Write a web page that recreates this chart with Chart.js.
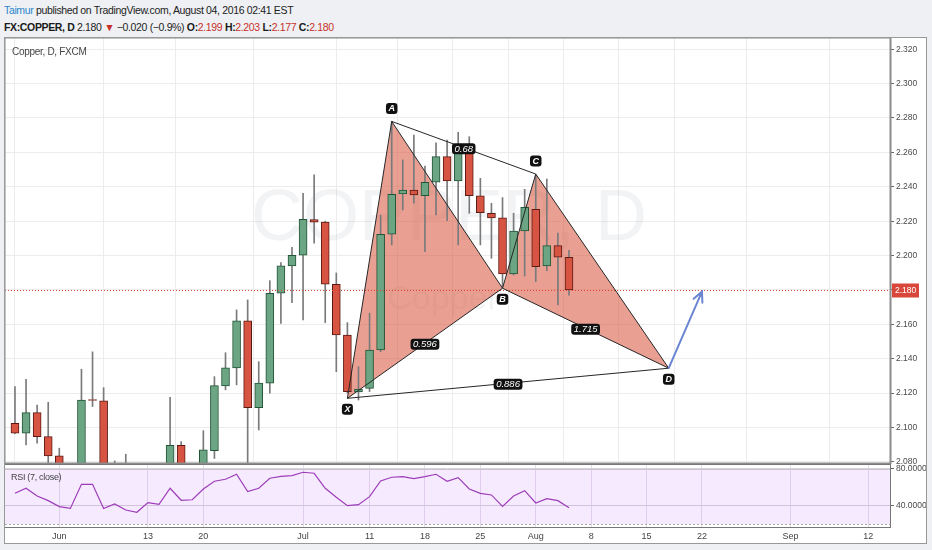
<!DOCTYPE html>
<html>
<head>
<meta charset="utf-8">
<script src="https://cdn.jsdelivr.net/npm/chart.js@4.4.1/dist/chart.umd.min.js"></script>
<style>
  body { margin: 0; width: 932px; height: 550px; background: #eef0f3; position: relative; overflow: hidden;
         font-family: 'Liberation Sans', Arial, sans-serif; }
  .hdr { position: absolute; left: 4px; font-size: 10.5px; color: #222; white-space: nowrap; letter-spacing: -0.35px; }
  #h1 { top: 4px; }
  #h2 { top: 21px; }
  #h2 b { color: #1a1a1a; }
  .r { color: #c9302c; }
  #frame { position: absolute; left: 4px; top: 37px; width: 923px; height: 507px; box-sizing: border-box;
           border: 1px solid #999; background: #fff; }
  canvas { position: absolute; }
  #main { left: 5px; top: 38px; }
  #rsi { left: 5px; top: 464px; }
  .lbl { position: absolute; font-size: 10px; color: #444; letter-spacing: -0.3px; }
</style>
</head>
<body>
<div class="hdr" id="h1"><span style="color:#2a86cc">Taimur</span> published on TradingView.com, August 04, 2016 02:41 EST</div>
<div class="hdr" id="h2"><b>FX:COPPER, D</b> 2.180 <span class="r">&#9660;</span> &minus;0.020 (&minus;0.9%) <b>O:</b><span class="r">2.199</span> <b>H:</b><span class="r">2.203</span> <b>L:</b><span class="r">2.177</span> <b>C:</b><span class="r">2.180</span></div>
<div id="frame"></div>
<canvas id="main" width="921" height="426"></canvas>
<canvas id="rsi" width="921" height="79"></canvas>
<div class="lbl" style="left:12px;top:46px;">Copper, D, FXCM</div>
<div class="lbl" style="left:11px;top:472px;font-size:9px;">RSI (7, close)</div>
<script>
const dates = ['2016-05-26','2016-05-27','2016-05-30','2016-05-31','2016-06-01','2016-06-02','2016-06-03',
  '2016-06-06','2016-06-07','2016-06-08','2016-06-09','2016-06-10','2016-06-13','2016-06-14','2016-06-15',
  '2016-06-16','2016-06-17','2016-06-20','2016-06-21','2016-06-22','2016-06-23','2016-06-24','2016-06-27',
  '2016-06-28','2016-06-29','2016-06-30','2016-07-01','2016-07-04','2016-07-05','2016-07-06','2016-07-07',
  '2016-07-08','2016-07-11','2016-07-12','2016-07-13','2016-07-14','2016-07-15','2016-07-18','2016-07-19',
  '2016-07-20','2016-07-21','2016-07-22','2016-07-25','2016-07-26','2016-07-27','2016-07-28','2016-07-29',
  '2016-08-01','2016-08-02','2016-08-03','2016-08-04'];

const opens  = [2.1025,2.0967,2.1087,2.0947,2.0835,2.0750,2.0720,2.1162,2.1156,2.0700,2.0770,2.0660,2.0620,
  2.0720,2.0700,2.0897,2.0740,2.0755,2.0866,2.1242,2.1347,2.1620,2.1116,2.1258,2.1781,2.1940,2.2002,2.2209,
  2.2194,2.1833,2.1538,2.1207,2.1228,2.1451,2.2124,2.2358,2.2381,2.2348,2.2426,2.2575,2.2434,2.2595,2.2348,
  2.2246,2.2219,2.1893,2.2143,2.2269,2.1940,2.2058,2.1990];
const highs  = [2.1238,2.1281,2.1131,2.1147,2.0880,2.0780,2.1339,2.1440,2.1232,2.0806,2.0845,2.0720,2.0770,
  2.0780,2.1176,2.0918,2.0785,2.0982,2.1296,2.1435,2.1684,2.1742,2.1383,2.1854,2.1959,2.2048,2.2362,2.2469,
  2.2200,2.1899,2.1610,2.1354,2.1665,2.2236,2.2779,2.2556,2.2701,2.2520,2.2656,2.2672,2.2717,2.2691,2.2449,
  2.2304,2.2337,2.2246,2.2385,2.2469,2.2444,2.2130,2.2030];
const lows   = [2.0965,2.0899,2.0909,2.0794,2.0700,2.0640,2.0700,2.1122,2.0680,2.0640,2.0610,2.0570,2.0580,
  2.0640,2.0660,2.0700,2.0680,2.0720,2.0820,2.1219,2.1248,2.0780,2.0986,2.1200,2.1606,2.1726,2.1626,2.2072,
  2.1610,2.1325,2.1201,2.1160,2.1209,2.1441,2.2062,2.2265,2.2304,2.2023,2.2236,2.2203,2.2062,2.2246,2.2062,
  2.1984,2.1819,2.1887,2.1881,2.1848,2.1912,2.1713,2.1770];
const closes = [2.0967,2.1087,2.0947,2.0835,2.0750,2.0720,2.1160,2.1158,2.0720,2.0770,2.0660,2.0620,2.0720,
  2.0700,2.0897,2.0740,2.0755,2.0870,2.1244,2.1347,2.1620,2.1116,2.1258,2.1781,2.1940,2.2002,2.2211,2.2194,
  2.1833,2.1538,2.1209,2.1223,2.1451,2.2124,2.2356,2.2381,2.2352,2.2426,2.2575,2.2434,2.2595,2.2348,2.2249,
  2.2219,2.1893,2.2143,2.2281,2.1935,2.2058,2.1990,2.1800];
const rsi7 = [53.5,59,50.6,45.5,39,37,63.3,63.3,37,42,35.3,32.8,43.3,41.5,59,45.9,46.5,58.2,66.6,68.8,
  74.2,55.3,59,69.9,72,72.7,76.4,75.3,59,49.2,40,41.1,49.8,67,71,71.6,69.4,71.6,74.2,66.6,
  70.5,58.2,53.5,51.7,39.3,50.6,56.4,43,47.6,45.5,37.8];

// bar positions (trading-day index from 26 May) of the date labels
const tickBars   = [4, 12, 17, 26, 32, 37, 42, 47, 52, 57, 62, 70, 77];
const tickLabels = ['Jun', '13', '20', 'Jul', '11', '18', '25', 'Aug', '8', '15', '22', 'Sep', '12'];
const priceTicks = [2.08, 2.10, 2.12, 2.14, 2.16, 2.18, 2.20, 2.22, 2.24, 2.26, 2.28, 2.30, 2.32];
const rsiTicks   = [40, 80];

// XABCD drawing
const pointNames   = ['X', 'A', 'B', 'C', 'D'];
const pointBars    = [30, 34, 44, 47, 59];
const pointPrices  = [2.117, 2.278, 2.181, 2.2474, 2.1345];
const ratioLabels  = ['0.596', '0.68', '1.715', '0.886'];   // XB, AC, BD, XD
const arrowBar = 62, arrowPrice = 2.179;

const lastClose = closes[closes.length - 1];
const upFill = '#6ba583', downFill = '#d75442', upLine = '#225437', downLine = '#5b1a13';
const axisFont = { family: "'Liberation Sans', Arial, sans-serif", size: 8.5 };
const xMin = -0.9, xMax = 78.97;

function xTicks(scale) { scale.ticks = tickBars.map(v => ({ value: v })); }

function tag(ctx, text, cx, cy, font) {
  ctx.font = font;
  const w = ctx.measureText(text).width + 5, h = 11;
  ctx.fillStyle = '#111';
  ctx.beginPath();
  ctx.roundRect(cx - w / 2, cy - h / 2, w, h, 3);
  ctx.fill();
  ctx.fillStyle = '#fff';
  ctx.textAlign = 'center';
  ctx.textBaseline = 'middle';
  ctx.fillText(text, cx, cy + 0.5);
}

const overlay = {
  id: 'overlay',
  beforeDatasetsDraw(chart) {
    const { ctx, chartArea: a, scales: { x, y } } = chart;
    ctx.save();
    ctx.fillStyle = 'rgba(185,193,205,0.2)';
    ctx.textAlign = 'center';
    ctx.textBaseline = 'middle';
    ctx.font = '72px "Liberation Sans", sans-serif';
    ctx.fillText('COPPER, D', 444, 182);
    ctx.font = '34px "Liberation Sans", sans-serif';
    ctx.fillText('Copper', 438, 262);

    const p = pointBars.map((b, i) => [x.getPixelForValue(b), y.getPixelForValue(pointPrices[i])]);
    ctx.fillStyle = 'rgba(218,97,73,0.6)';
    [[0, 1, 2], [2, 3, 4]].forEach(t => {
      ctx.beginPath();
      ctx.moveTo(...p[t[0]]); ctx.lineTo(...p[t[1]]); ctx.lineTo(...p[t[2]]);
      ctx.closePath();
      ctx.fill();
    });
    ctx.restore();
  },
  afterDatasetsDraw(chart) {
    const { ctx, chartArea: a, scales: { x, y } } = chart;
    const p = pointBars.map((b, i) => [x.getPixelForValue(b), y.getPixelForValue(pointPrices[i])]);
    ctx.save();
    // last price line
    const ly = Math.round(y.getPixelForValue(lastClose)) + 0.5;
    ctx.strokeStyle = '#e0412f';
    ctx.lineWidth = 1;
    ctx.setLineDash([1, 2]);
    ctx.beginPath(); ctx.moveTo(a.left, ly); ctx.lineTo(a.right, ly); ctx.stroke();
    ctx.setLineDash([]);

    // pattern edges
    ctx.strokeStyle = '#262626';
    ctx.lineWidth = 1;
    [[0, 1], [1, 2], [2, 0], [2, 3], [3, 4], [4, 2], [1, 3], [0, 4]].forEach(s => {
      ctx.beginPath(); ctx.moveTo(...p[s[0]]); ctx.lineTo(...p[s[1]]); ctx.stroke();
    });

    // arrow from D
    const tx = x.getPixelForValue(arrowBar), ty = y.getPixelForValue(arrowPrice);
    const [dx, dy] = p[4];
    const ang = Math.atan2(ty - dy, tx - dx);
    ctx.strokeStyle = '#6a86d2';
    ctx.lineWidth = 2;
    ctx.lineCap = 'round';
    ctx.beginPath();
    ctx.moveTo(dx, dy); ctx.lineTo(tx, ty);
    ctx.moveTo(tx - 11 * Math.cos(ang - 0.45), ty - 11 * Math.sin(ang - 0.45));
    ctx.lineTo(tx, ty);
    ctx.lineTo(tx - 11 * Math.cos(ang + 0.45), ty - 11 * Math.sin(ang + 0.45));
    ctx.stroke();

    // ratio tags at segment midpoints
    const segs = [[0, 2], [1, 3], [2, 4], [0, 4]];
    segs.forEach((s, i) => {
      const mx = (p[s[0]][0] + p[s[1]][0]) / 2, my = (p[s[0]][1] + p[s[1]][1]) / 2;
      tag(ctx, ratioLabels[i], mx, my + 1, 'italic 9.5px "Liberation Sans", sans-serif');
    });
    // point tags
    const above = { A: true, C: true };
    pointNames.forEach((n, i) => {
      tag(ctx, n, p[i][0], p[i][1] + (above[n] ? -13 : 11), 'bold italic 9px "Liberation Sans", sans-serif');
    });

    // last price box on the axis
    ctx.fillStyle = '#d9473a';
    ctx.fillRect(a.right + 2, ly - 7, 27, 14);
    ctx.fillStyle = '#fff';
    ctx.font = '8.5px "Liberation Sans", Arial, sans-serif';
    ctx.textAlign = 'left';
    ctx.textBaseline = 'middle';
    ctx.fillText(lastClose.toFixed(3), a.right + 5, ly + 0.5);

    ctx.strokeStyle = '#8c8c8c';
    ctx.strokeRect(a.left - 0.5, a.top - 0.5, a.right - a.left + 1, a.bottom - a.top);
    ctx.restore();
  }
};

new Chart(document.getElementById('main'), {
  type: 'bar',
  data: {
    datasets: [
      {
        label: 'wick',
        data: dates.map((d, i) => ({ x: i, y: [lows[i], highs[i]] })),
        backgroundColor: '#7a7a7c',
        barThickness: 1,
        grouped: false,
        order: 2
      },
      {
        label: 'body',
        data: dates.map((d, i) => ({ x: i, y: [opens[i], closes[i]] })),
        backgroundColor: dates.map((d, i) => closes[i] >= opens[i] ? upFill : downFill),
        borderColor: dates.map((d, i) => closes[i] >= opens[i] ? upLine : downLine),
        borderWidth: 1,
        borderSkipped: false,
        barThickness: 8,
        grouped: false,
        order: 1
      }
    ]
  },
  options: {
    responsive: false,
    animation: false,
    devicePixelRatio: 1,
    layout: { autoPadding: false, padding: 0 },
    plugins: { legend: { display: false }, tooltip: { enabled: false } },
    scales: {
      x: {
        type: 'linear', min: xMin, max: xMax, offset: false,
        afterBuildTicks: xTicks,
        afterFit: s => { s.height = 0; s.paddingLeft = s.paddingRight = 0; },
        ticks: { display: false },
        grid: { color: '#ececec', drawTicks: false },
        border: { display: false }
      },
      y: {
        position: 'right', min: 2.0788, max: 2.3265,
        afterBuildTicks: s => { s.ticks = priceTicks.map(v => ({ value: v })); },
        afterFit: s => { s.width = 36; s.paddingTop = s.paddingBottom = 0; },
        ticks: { color: '#4a4a4a', font: axisFont, padding: 2, callback: v => v.toFixed(3) },
        grid: { color: '#ececec', tickColor: '#666', tickLength: 4 },
        border: { display: true, color: '#777' }
      }
    }
  },
  plugins: [overlay]
});

const rsiBand = {
  id: 'rsiBand',
  beforeDatasetsDraw(chart) {
    const { ctx, chartArea: a, scales: { y } } = chart;
    const t = y.getPixelForValue(80), b = y.getPixelForValue(20);
    ctx.save();
    ctx.fillStyle = 'rgba(153,21,255,0.09)';
    ctx.fillRect(a.left, t, a.right - a.left, b - t);
    ctx.strokeStyle = '#c9c4cc';
    ctx.beginPath(); ctx.moveTo(a.left, Math.round(t) + 0.5); ctx.lineTo(a.right, Math.round(t) + 0.5); ctx.stroke();
    ctx.strokeStyle = '#a6a6a6';
    ctx.setLineDash([2, 2]);
    ctx.beginPath(); ctx.moveTo(a.left, Math.round(b) + 0.5); ctx.lineTo(a.right, Math.round(b) + 0.5); ctx.stroke();
    ctx.restore();
  },
  afterDraw(chart) {
    const { ctx, chartArea: a } = chart;
    ctx.save();
    ctx.strokeStyle = '#777';
    ctx.strokeRect(a.left - 0.5, a.top + 0.5, a.right - a.left + 1, a.bottom - a.top);
    ctx.restore();
  }
};

new Chart(document.getElementById('rsi'), {
  type: 'line',
  data: {
    datasets: [{
      label: 'RSI (7, close)',
      data: rsi7.map((v, i) => ({ x: i, y: v })),
      borderColor: '#9d3db8',
      borderWidth: 1.2,
      pointRadius: 0,
      tension: 0
    }]
  },
  options: {
    responsive: false,
    animation: false,
    devicePixelRatio: 1,
    layout: { autoPadding: false, padding: 0 },
    plugins: { legend: { display: false }, tooltip: { enabled: false } },
    scales: {
      x: {
        type: 'linear', min: xMin, max: xMax, offset: false,
        afterBuildTicks: xTicks,
        afterFit: s => { s.height = 16; s.paddingLeft = s.paddingRight = 0; },
        ticks: { color: '#444', font: { ...axisFont, size: 9 }, padding: 4, maxRotation: 0, autoSkip: false,
                 callback: (v, i) => tickLabels[i] },
        grid: { color: '#e6e0ea', drawTicks: false },
        border: { display: false }
      },
      y: {
        position: 'right', min: 16.8, max: 85.4,
        afterBuildTicks: s => { s.ticks = rsiTicks.map(v => ({ value: v })); },
        afterFit: s => { s.width = 36; s.paddingTop = s.paddingBottom = 0; },
        ticks: { color: '#4a4a4a', font: axisFont, padding: 2, callback: v => v.toFixed(4) },
        grid: { color: '#d6d2da', tickColor: '#666', tickLength: 4 },
        border: { display: true, color: '#777' }
      }
    }
  },
  plugins: [rsiBand]
});
</script>
</body>
</html>
